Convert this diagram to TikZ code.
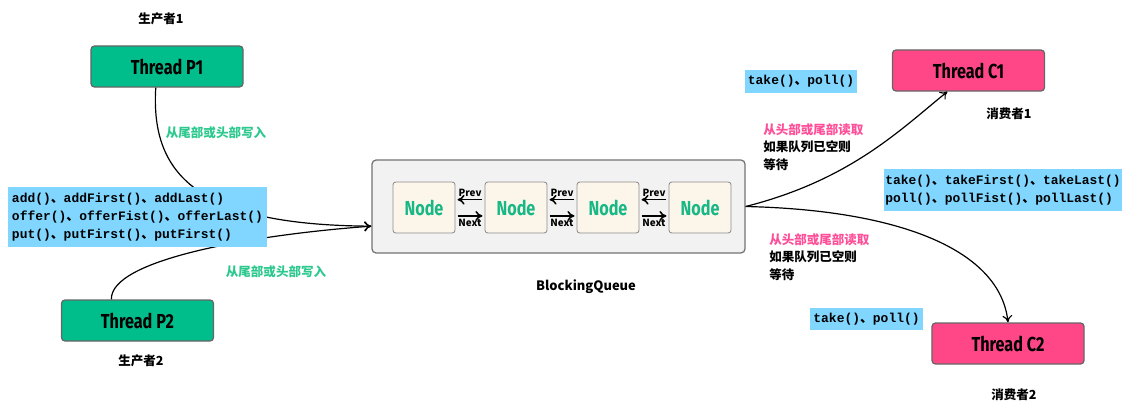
\documentclass[tikz,border=0pt]{standalone}
\usepackage{fontspec}
\usetikzlibrary{arrows.meta}
\newfontfamily\cjk{Noto Sans CJK SC}
\newfontfamily\mono{Liberation Mono}
\newfontfamily\hand{Fira Sans}[FakeStretch=0.8]
\definecolor{thgreen}{HTML}{00BE8C}
\definecolor{thpink}{HTML}{FF4787}
\definecolor{apiblue}{HTML}{80D6FF}
\definecolor{qgray}{HTML}{F2F2F2}
\definecolor{nodecream}{HTML}{FCF5EA}
\definecolor{txgreen}{HTML}{18B886}
\definecolor{lblgreen}{HTML}{2DC88E}
\definecolor{txpink}{HTML}{FF4F99}
\newcommand\dun{{\cjk\bfseries 、}}

\tikzset{
  thread/.style={draw=black!60, rounded corners=2.5pt, line width=0.9pt,
    minimum width=3.8cm, minimum height=1.025cm,
    font={\hand\bfseries\fontsize{14.4}{16}\selectfont}},
  queue/.style={draw=black!55, fill=qgray, rounded corners=3pt, line width=0.9pt,
    minimum width=9.325cm, minimum height=2.325cm},
  qnode/.style={draw=black!45, fill=nodecream, rounded corners=2pt, line width=0.6pt,
    minimum width=1.55cm, minimum height=1.275cm, text=txgreen,
    font={\hand\bfseries\fontsize{14.4}{16}\selectfont}},
  link/.style={line width=1.1pt, shorten <=1.5pt, shorten >=1.5pt},
  lbl/.style={inner sep=1.5pt, font={\cjk\bfseries\fontsize{7}{8}\selectfont}},
  conn/.style={line width=0.85pt},
  api/.style={fill=apiblue, align=left, inner xsep=0pt,
    font={\mono\bfseries\fontsize{9.2}{12.8}\selectfont}},
  tag/.style={inner sep=0pt, font={\cjk\bfseries\fontsize{8.9}{10}\selectfont}},
  note/.style={inner sep=0pt, align=left, font={\cjk\bfseries\fontsize{8.9}{12.4}\selectfont}}
}

\begin{document}
\begin{tikzpicture}[x=0.025cm, y=-0.025cm, >={To[length=5pt,width=7pt]}]
  \useasboundingbox (0,0) rectangle (1122,402);

  % Draw the threads
  \node[thread, fill=thgreen] (p1) at (167,66.5) {Thread P1};
  \node[thread, fill=thgreen] (p2) at (137.5,320.5) {Thread P2};
  \node[thread, fill=thpink] (c1) at (968.5,70.5) {Thread C1};
  \node[thread, fill=thpink] (c2) at (1008,343.5) {Thread C2};

  \node[tag] (p1tag) at (161,19) {生产者1};
  \node[tag] (p2tag) at (141,361) {生产者2};
  \node[tag] (c1tag) at (1009,114) {消费者1};
  \node[tag] (c2tag) at (1014,395) {消费者2};

  % Draw the queue
  \node[queue] (q) at (558.5,206.5) {};
  \foreach \i/\x in {1/424, 2/516, 3/608, 4/700}
    \node[qnode] (n\i) at (\x,207.5) {Node};
  \foreach \i/\j in {1/2, 2/3, 3/4} {
    \draw[link,->] (n\j.166) -- node[above,lbl] {Prev} (n\i.14);
    \draw[link,->] (n\i.-15) -- node[below,lbl] {Next} (n\j.195);
  }
  \node[tag, font={\cjk\bfseries\fontsize{9.2}{10}\selectfont}] (qtag) at (586,287) {BlockingQueue};

  % Draw the producer and consumer arrows
  \draw[conn,->] (p1.242) .. controls (150,180) and (205,225) .. (q.186);
  \draw[conn,->] (p2.141) .. controls (110,260) and (250,235) .. (q.186);
  \draw[conn,->] (q.east) .. controls (850,180) and (900,130) .. (c1.225);
  \draw[conn,->] (q.east) .. controls (900,210) and (1000,250) .. (c2.north);

  % Draw the method boxes
  \node[api, minimum width=6.475cm, minimum height=1.5cm] (put) at (137.5,217)
    {add()\dun addFirst()\dun addLast()\\offer()\dun offerFist()\dun offerLast()\\put()\dun putFirst()\dun putFirst()};
  \node[api, minimum width=5.95cm, minimum height=1.05cm] (take) at (1003,190)
    {take()\dun takeFirst()\dun takeLast()\\poll()\dun pollFist()\dun pollLast()};
  \node[api, minimum width=2.8cm, minimum height=0.575cm] (take1) at (801,81.5) {take()\dun poll()};
  \node[api, minimum width=2.8cm, minimum height=0.55cm] (take2) at (866.5,319) {take()\dun poll()};

  % Draw the labels
  \node[tag, text=lblgreen] (w1) at (216,133) {从尾部或头部写入};
  \node[tag, text=lblgreen] (w2) at (276,272) {从尾部或头部写入};
  \node[note, anchor=west] (r1) at (763,147) {\textcolor{txpink}{从头部或尾部读取}\\如果队列已空则\\等待};
  \node[note, anchor=west] (r2) at (769,257) {\textcolor{txpink}{从头部或尾部读取}\\如果队列已空则\\等待};
\end{tikzpicture}
\end{document}
